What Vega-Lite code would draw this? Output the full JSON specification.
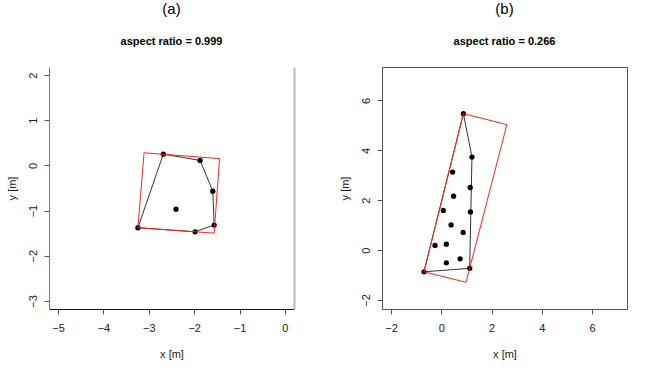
{
  "$schema": "https://vega.github.io/schema/vega-lite/v6.json",
  "background": "white",
  "padding": {"left": 6, "top": 1, "right": 24, "bottom": 6},
  "spacing": 88,
  "bounds": "flush",
  "config": {
    "font": "Liberation Sans",
    "axis": {"grid": false, "domainColor": "#555", "tickColor": "#555", "tickSize": 5, "labelFontSize": 11, "labelColor": "#222", "titleFontSize": 11, "titleFontWeight": "normal", "titleColor": "#222", "labelPadding": 8, "titlePadding": 15},
    "axisY": {"labelAngle": -90, "labelAlign": "center", "labelBaseline": "bottom", "labelPadding": 6, "titlePadding": 10},
    "title": {"fontSize": 15, "fontWeight": "normal", "subtitleFontSize": 11, "subtitleFontWeight": "bold", "subtitleColor": "#000", "subtitlePadding": 19, "offset": 20, "anchor": "middle"}
  },
  "datasets": {
    "ptsA": [
      {"x": -2.68, "y": 0.25}, {"x": -1.87, "y": 0.11}, {"x": -1.59, "y": -0.57},
      {"x": -1.56, "y": -1.32}, {"x": -1.98, "y": -1.47}, {"x": -3.24, "y": -1.38},
      {"x": -2.40, "y": -0.97}
    ],
    "hullA": [
      {"i": 0, "x": -3.24, "y": -1.38}, {"i": 1, "x": -2.68, "y": 0.25}, {"i": 2, "x": -1.87, "y": 0.11},
      {"i": 3, "x": -1.59, "y": -0.57}, {"i": 4, "x": -1.56, "y": -1.32}, {"i": 5, "x": -1.98, "y": -1.47},
      {"i": 6, "x": -3.24, "y": -1.38}
    ],
    "rectA": [
      {"i": 0, "x": -3.105, "y": 0.28}, {"i": 1, "x": -1.44, "y": 0.15}, {"i": 2, "x": -1.56, "y": -1.50},
      {"i": 3, "x": -3.24, "y": -1.38}, {"i": 4, "x": -3.105, "y": 0.28}
    ],
    "ptsB": [
      {"x": 0.88, "y": 5.47}, {"x": 1.22, "y": 3.73}, {"x": 0.45, "y": 3.13}, {"x": 1.15, "y": 2.51},
      {"x": 0.49, "y": 2.16}, {"x": 0.08, "y": 1.59}, {"x": 1.16, "y": 1.53}, {"x": 0.39, "y": 1.01},
      {"x": 0.87, "y": 0.71}, {"x": -0.25, "y": 0.19}, {"x": 0.20, "y": 0.24}, {"x": 0.20, "y": -0.51},
      {"x": 0.75, "y": -0.35}, {"x": 1.13, "y": -0.73}, {"x": -0.69, "y": -0.87}
    ],
    "hullB": [
      {"i": 0, "x": -0.69, "y": -0.87}, {"i": 1, "x": 0.88, "y": 5.47}, {"i": 2, "x": 1.22, "y": 3.73},
      {"i": 3, "x": 1.13, "y": -0.73}, {"i": 4, "x": -0.69, "y": -0.87}
    ],
    "rectB": [
      {"i": 0, "x": 0.88, "y": 5.47}, {"i": 1, "x": 2.61, "y": 5.03}, {"i": 2, "x": 0.985, "y": -1.29},
      {"i": 3, "x": -0.69, "y": -0.87}, {"i": 4, "x": 0.88, "y": 5.47}
    ]
  },
  "hconcat": [
    {
      "width": 245, "height": 242,
      "title": {"text": "(a)", "subtitle": "aspect ratio = 0.999"},
      "view": {"stroke": null},
      "resolve": {"axis": {"y": "independent"}},
      "layer": [
        {
          "data": {"name": "hullA"},
          "mark": {"type": "line", "color": "#333", "strokeWidth": 1},
          "encoding": {
            "x": {"field": "x", "type": "quantitative", "scale": {"domain": [-5.2, 0.2], "nice": false, "zero": false}, "axis": {"values": [-5, -4, -3, -2, -1, 0], "title": "x [m]", "domainColor": "#111"}},
            "y": {"field": "y", "type": "quantitative", "scale": {"domain": [-3.18, 2.18], "nice": false, "zero": false}, "axis": {"values": [-3, -2, -1, 0, 1, 2], "title": "y [m]", "domainColor": "#777"}},
            "order": {"field": "i"}
          }
        },
        {
          "data": {"name": "ptsA"},
          "mark": {"type": "circle", "color": "#000", "opacity": 1, "size": 28},
          "encoding": {
            "x": {"field": "x", "type": "quantitative"},
            "y": {"field": "y", "type": "quantitative", "axis": {"orient": "right", "ticks": false, "labels": false, "title": null, "domainColor": "#bbb", "domainWidth": 2}}
          }
        },
        {
          "data": {"name": "rectA"},
          "mark": {"type": "line", "color": "#ff2020", "strokeWidth": 1},
          "encoding": {
            "x": {"field": "x", "type": "quantitative"},
            "y": {"field": "y", "type": "quantitative", "axis": null},
            "order": {"field": "i"}
          }
        }
      ]
    },
    {
      "width": 245, "height": 242,
      "title": {"text": "(b)", "subtitle": "aspect ratio = 0.266"},
      "view": {"stroke": "#555"},
      "layer": [
        {
          "data": {"name": "hullB"},
          "mark": {"type": "line", "color": "#333", "strokeWidth": 1},
          "encoding": {
            "x": {"field": "x", "type": "quantitative", "scale": {"domain": [-2.36, 7.39], "nice": false, "zero": false}, "axis": {"values": [-2, 0, 2, 4, 6], "title": "x [m]"}},
            "y": {"field": "y", "type": "quantitative", "scale": {"domain": [-2.36, 7.34], "nice": false, "zero": false}, "axis": {"values": [-2, 0, 2, 4, 6], "title": "y [m]"}},
            "order": {"field": "i"}
          }
        },
        {
          "data": {"name": "ptsB"},
          "mark": {"type": "circle", "color": "#000", "opacity": 1, "size": 28},
          "encoding": {
            "x": {"field": "x", "type": "quantitative"},
            "y": {"field": "y", "type": "quantitative"}
          }
        },
        {
          "data": {"name": "rectB"},
          "mark": {"type": "line", "color": "#ff2020", "strokeWidth": 1},
          "encoding": {
            "x": {"field": "x", "type": "quantitative"},
            "y": {"field": "y", "type": "quantitative"},
            "order": {"field": "i"}
          }
        }
      ]
    }
  ]
}
